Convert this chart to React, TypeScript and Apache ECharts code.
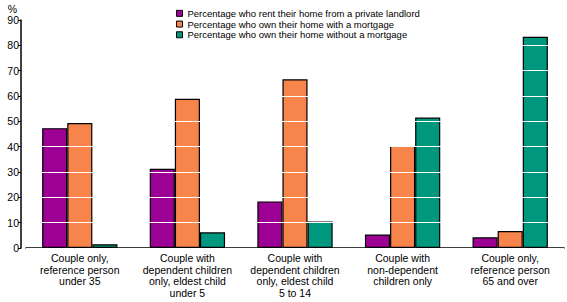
import React, { useEffect, useRef } from "react";
import * as echarts from "echarts";

const categories = [
  "Couple only,\nreference person\nunder 35",
  "Couple with\ndependent children\nonly, eldest child\nunder 5",
  "Couple with\ndependent children\nonly, eldest child\n5 to 14",
  "Couple with\nnon-dependent\nchildren only",
  "Couple only,\nreference person\n65 and over",
];
const seriesNames = [
  "Percentage who rent their home from a private landlord",
  "Percentage who own their home with a mortgage",
  "Percentage who own their home without a mortgage",
];
const rentPrivate = [47.3, 31.3, 18.4, 5.3, 4.2];
const ownMortgage = [49.3, 58.9, 66.6, 40.3, 6.7];
const ownOutright = [1.5, 6.2, 10.5, 51.5, 83.4];
const yTicks = [0, 10, 20, 30, 40, 50, 60, 70, 80, 90];

const colors = ["#9c0095", "#f7844a", "#00977f"];
const FONT = "'Liberation Sans', Arial, sans-serif";

export default function App() {
  const ref = useRef<HTMLDivElement>(null);
  useEffect(() => {
    if (!ref.current) return;
    const chart = echarts.init(ref.current, undefined, { renderer: "svg" });
    const data = [rentPrivate, ownMortgage, ownOutright];
    chart.setOption({
      animation: false,
      textStyle: { fontFamily: FONT, color: "#000" },
      legend: {
        orient: "vertical",
        left: 171,
        top: 3,
        z: 10,
        itemWidth: 6,
        itemHeight: 6,
        itemGap: 0,
        icon: "rect",
        data: seriesNames,
        textStyle: { fontSize: 9.5, color: "#000", lineHeight: 10.7, fontFamily: FONT },
        itemStyle: { borderColor: "#000", borderWidth: 1 },
      },
      grid: { left: 26, right: 3, top: 20, bottom: 54, containLabel: false },
      xAxis: {
        type: "category",
        data: categories,
        axisLine: { lineStyle: { color: "#000", width: 1.5 } },
        axisTick: { alignWithLabel: true, length: 3, lineStyle: { color: "#000" } },
        axisLabel: { fontSize: 10.5, color: "#000", lineHeight: 11.7, margin: 4, interval: 0, fontFamily: FONT },
      },
      yAxis: {
        type: "value",
        min: 0,
        max: 90,
        interval: 10,
        offset: 5,
        z: 5,
        name: "%",
        nameLocation: "end",
        nameGap: 5,
        nameTextStyle: { fontSize: 10.5, color: "#000", align: "right", padding: [0, 4, 0, 0], fontFamily: FONT },
        axisLine: { show: true, lineStyle: { color: "#000", width: 1.5 } },
        axisTick: { show: true, length: 3, lineStyle: { color: "#000" } },
        axisLabel: {
          fontSize: 10.5,
          color: "#000",
          margin: 2,
          fontFamily: FONT,
          formatter: (v: number) => (yTicks.includes(v) ? String(v) : ""),
        },
        splitLine: { show: true, lineStyle: { color: "#ffffff", width: 1 } },
      },
      series: seriesNames.map((name, i) => ({
        name,
        type: "bar",
        data: data[i],
        barGap: "0%",
        barCategoryGap: "30%",
        itemStyle: { color: colors[i], borderColor: "#000", borderWidth: 1.2 },
      })),
    });
    return () => chart.dispose();
  }, []);
  return <div ref={ref} style={{ position: "absolute", left: 0, top: 0, width: 567, height: 302 }} />;
}
